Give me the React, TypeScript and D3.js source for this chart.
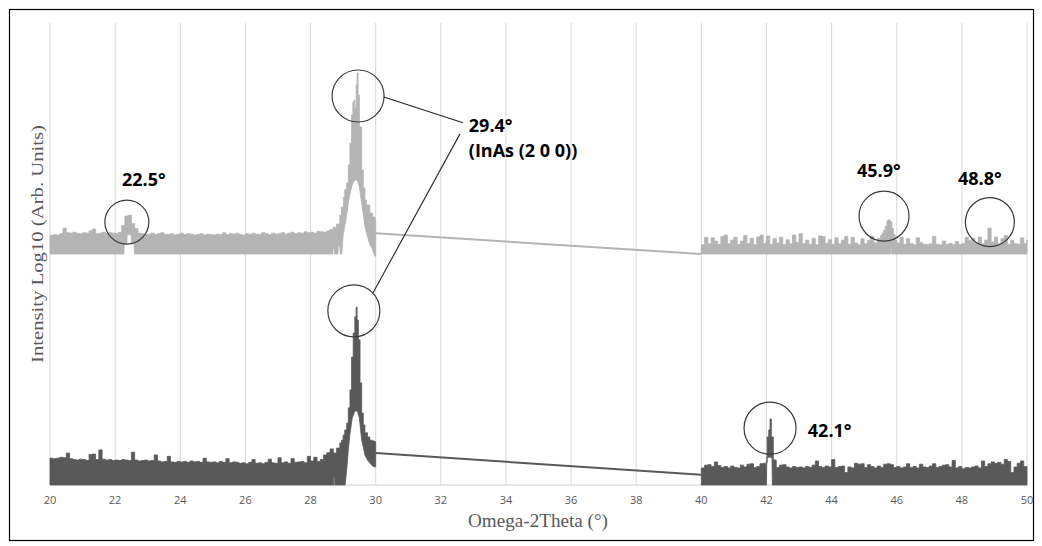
import React from "react";
import * as d3 from "d3";

// ---------- DATA (Omega-2Theta in degrees, intensity in arbitrary log units) ----------
const xTicks = [20, 22, 24, 26, 28, 30, 32, 34, 36, 38, 40, 42, 44, 46, 48, 50];
const xTitle = "Omega-2Theta (°)";
const yTitle = "Intensity Log10 (Arb. Units)";
const gridStep = 0.1;

// Upper sample (light gray, offset) 20.0 → 28.6 every 0.1°: upper edge of the noise band
const lightUpperA = [
  5.40, 5.42, 5.41, 5.44, 5.56, 5.46, 5.45, 5.47, 5.45, 5.44,
  5.46, 5.45, 5.50, 5.54, 5.44, 5.45, 5.47, 5.44, 5.46, 5.45,
  5.44, 5.47, 5.62, 5.82, 5.84, 5.66, 5.55, 5.45, 5.44, 5.42,
  5.43, 5.45, 5.42, 5.44, 5.46, 5.43, 5.42, 5.44, 5.41, 5.43,
  5.45, 5.42, 5.44, 5.43, 5.41, 5.42, 5.44, 5.41, 5.43, 5.42,
  5.41, 5.43, 5.42, 5.46, 5.42, 5.44, 5.43, 5.45, 5.42, 5.41,
  5.44, 5.42, 5.45, 5.43, 5.42, 5.46, 5.44, 5.42, 5.45, 5.43,
  5.44, 5.46, 5.43, 5.45, 5.47, 5.44, 5.46, 5.45, 5.48, 5.46,
  5.47, 5.45, 5.49, 5.48, 5.47, 5.50, 5.53,
];
const lightPeakA: [number, number][] = [
  [28.7, 5.58], [28.8, 5.65], [28.9, 5.84], [28.95, 6.02], [29.01, 6.23], [29.05, 6.39],
  [29.11, 6.54], [29.16, 6.93], [29.21, 7.4], [29.26, 8.01], [29.3, 8.29], [29.33, 8.33],
  [29.36, 8.16], [29.4, 8.66], [29.43, 8.92], [29.46, 8.44], [29.5, 7.75], [29.57, 6.82],
  [29.62, 6.43], [29.67, 6.17], [29.72, 6.06], [29.82, 5.89], [29.9, 5.8], [29.98, 5.74],
  [30.0, 5.45],
];
const lightLowerA: [number, number][] = [
  [20.0, 5.0], [22.27, 5.0], [22.28, 5.22], [22.36, 5.22], [22.37, 5.42], [22.49, 5.42],
  [22.5, 5.22], [22.58, 5.22], [22.59, 5.0], [28.68, 5.0], [28.69, 5.12], [28.72, 5.12],
  [28.73, 5.0], [28.84, 5.0], [28.85, 5.18], [28.9, 5.18], [28.91, 5.0], [28.96, 5.0],
  [29.0, 5.4], [29.05, 5.6], [29.11, 5.85], [29.16, 6.1], [29.21, 6.3], [29.28, 6.5],
  [29.36, 6.6], [29.44, 6.6], [29.5, 6.45], [29.57, 6.1], [29.62, 5.85], [29.67, 5.6],
  [29.72, 5.45], [29.82, 5.2], [29.9, 5.1], [29.98, 4.95], [30.0, 4.95],
];
// 40.0 → 45.4
const lightUpperB1 = [
  5.20, 5.36, 5.22, 5.35, 5.28, 5.21, 5.38, 5.41, 5.22, 5.30,
  5.36, 5.21, 5.28, 5.40, 5.22, 5.34, 5.20, 5.37, 5.41, 5.23,
  5.39, 5.21, 5.33, 5.24, 5.36, 5.20, 5.31, 5.22, 5.41, 5.25,
  5.44, 5.22, 5.30, 5.21, 5.34, 5.20, 5.39, 5.38, 5.23, 5.31,
  5.21, 5.35, 5.22, 5.30, 5.38, 5.21, 5.36, 5.24, 5.20, 5.33,
  5.22, 5.29, 5.38, 5.24, 5.34,
];
const lightPeakB: [number, number][] = [
  [45.5, 5.4], [45.55, 5.45], [45.6, 5.52], [45.65, 5.6], [45.7, 5.72], [45.75, 5.74],
  [45.8, 5.7], [45.85, 5.55], [45.9, 5.42], [45.95, 5.3],
];
// 46.0 → 50.0
const lightUpperB2 = [
  5.24, 5.36, 5.21, 5.33, 5.22, 5.20, 5.35, 5.25, 5.21, 5.20,
  5.22, 5.38, 5.21, 5.20, 5.28, 5.21, 5.23, 5.20, 5.27, 5.21,
  5.22, 5.36, 5.30, 5.34, 5.24, 5.37, 5.22, 5.30, 5.56, 5.26,
  5.37, 5.22, 5.33, 5.40, 5.21, 5.29, 5.22, 5.21, 5.35, 5.23,
  5.30,
];
const lightLowerB: [number, number][] = [
  [40.0, 5.0], [45.81, 5.0], [45.815, 5.18], [45.84, 5.18], [45.845, 5.0], [50.0, 5.0],
];
const lightGap: [number, number][] = [[30.0, 5.45], [40.0, 5.0]];

// Lower sample (dark gray) 20.0 → 28.6 every 0.1°
const darkUpperA = [
  0.58, 0.57, 0.58, 0.60, 0.59, 0.69, 0.57, 0.55, 0.54, 0.56,
  0.55, 0.53, 0.66, 0.67, 0.55, 0.76, 0.56, 0.54, 0.55, 0.53,
  0.54, 0.53, 0.55, 0.54, 0.53, 0.71, 0.54, 0.52, 0.53, 0.54,
  0.52, 0.53, 0.65, 0.52, 0.50, 0.51, 0.62, 0.50, 0.49, 0.51,
  0.50, 0.51, 0.49, 0.52, 0.50, 0.51, 0.49, 0.58, 0.50, 0.49,
  0.50, 0.48, 0.51, 0.49, 0.57, 0.48, 0.50, 0.49, 0.47, 0.48,
  0.46, 0.49, 0.55, 0.47, 0.48, 0.46, 0.49, 0.56, 0.48, 0.47,
  0.59, 0.48, 0.50, 0.47, 0.57, 0.49, 0.50, 0.51, 0.48, 0.62,
  0.52, 0.60, 0.51, 0.55, 0.65, 0.70, 0.78,
];
const darkPeakA: [number, number][] = [
  [28.7, 0.69], [28.8, 0.8], [28.9, 0.91], [28.95, 0.97], [29.0, 1.08], [29.05, 1.19],
  [29.11, 1.34], [29.16, 1.67], [29.21, 2.06], [29.26, 2.77], [29.31, 3.29], [29.36, 3.64],
  [29.4, 3.85], [29.43, 3.57], [29.47, 3.14], [29.52, 2.21], [29.57, 1.56], [29.62, 1.3],
  [29.67, 1.13], [29.75, 1.04], [29.82, 0.97], [29.9, 0.95], [29.98, 0.93], [30.0, 0.69],
];
const darkLowerA: [number, number][] = [
  [20.0, 0], [28.71, 0], [28.715, 0.17], [28.74, 0.17], [28.745, 0], [29.06, 0],
  [29.11, 0.32], [29.16, 0.76], [29.21, 1.1], [29.28, 1.45], [29.36, 1.6], [29.44, 1.6],
  [29.5, 1.45], [29.57, 0.97], [29.62, 0.82], [29.67, 0.65], [29.75, 0.54], [29.82, 0.48],
  [29.9, 0.41], [29.98, 0.39], [30.0, 0.39],
];
// 40.0 → 41.9
const darkUpperB1 = [
  0.37, 0.43, 0.44, 0.40, 0.50, 0.42, 0.38, 0.40, 0.37, 0.41,
  0.38, 0.37, 0.43, 0.39, 0.45, 0.46, 0.38, 0.40, 0.46, 0.47,
];
const darkPeakB: [number, number][] = [
  [41.95, 0.45], [41.98, 0.48], [42.02, 1.04], [42.07, 1.19], [42.11, 1.43], [42.15, 1.04],
  [42.21, 0.54],
];
// 42.3 → 50.0
const darkUpperB2 = [
  0.38, 0.43, 0.44, 0.39, 0.37, 0.40, 0.38,
  0.39, 0.37, 0.40, 0.38, 0.43, 0.52, 0.40, 0.38, 0.41, 0.39,
  0.55, 0.38, 0.40, 0.41, 0.27, 0.39, 0.37, 0.47, 0.45, 0.46,
  0.38, 0.44, 0.40, 0.37, 0.41, 0.38, 0.45, 0.46, 0.44, 0.38,
  0.40, 0.37, 0.39, 0.46, 0.38, 0.40, 0.37, 0.45, 0.39, 0.38,
  0.41, 0.46, 0.38, 0.40, 0.43, 0.44, 0.39, 0.53, 0.37, 0.40,
  0.35, 0.38, 0.37, 0.39, 0.41, 0.37, 0.52, 0.40, 0.46, 0.50,
  0.47, 0.49, 0.45, 0.55, 0.51, 0.27, 0.39, 0.47, 0.52, 0.40,
  0.38,
];
const darkLowerB: [number, number][] = [
  [40.0, 0], [42.0, 0], [42.01, 0.6], [42.17, 0.6], [42.18, 0], [50.0, 0],
];
const darkGap: [number, number][] = [[30.0, 0.69], [40.0, 0.22]];

// Annotations (data coordinates)
const circles = [
  { x: 22.36, y: 5.69, r: 22 },
  { x: 29.46, y: 8.42, r: 26 },
  { x: 29.33, y: 3.77, r: 26 },
  { x: 42.11, y: 1.23, r: 26 },
  { x: 45.61, y: 5.82, r: 25 },
  { x: 48.86, y: 5.69, r: 24.5 },
];
const labels = [
  { x: 22.21, y: 6.47, text: "22.5°" },
  { x: 32.86, y: 7.64, text: "29.4°" },
  { x: 32.86, y: 7.1, text: "(InAs (2 0 0))" },
  { x: 44.78, y: 6.67, text: "45.9°" },
  { x: 47.88, y: 6.49, text: "48.8°" },
  { x: 43.27, y: 1.04, text: "42.1°" },
];
const leaders: [number, number][][] = [
  [[30.25, 8.4], [32.68, 7.84]],
  [[32.59, 7.6], [29.92, 4.16]],
];

const LIGHT = "#b4b4b4";
const DARK = "#595959";

const grid = (start: number, vals: number[]): [number, number][] =>
  vals.map((v, i) => [+(start + i * gridStep).toFixed(3), v]);

export default function App() {
  const x = d3.scaleLinear().domain([20, 50]).range([50, 1027]);
  const y = d3.scaleLinear().domain([0, 10]).range([485, 23]);
  const line = d3.line();

  const bandPath = (upper: [number, number][], lower: [number, number][]) => {
    const pts: [number, number][] = [];
    upper.forEach((p, i) => {
      pts.push([x(p[0]), y(p[1])]);
      if (i < upper.length - 1) pts.push([x(upper[i + 1][0]), y(p[1])]);
    });
    lower
      .slice()
      .reverse()
      .forEach((p) => pts.push([x(p[0]), y(p[1])]));
    return line(pts) + "Z";
  };
  const toPx = (pts: [number, number][]) => line(pts.map((p) => [x(p[0]), y(p[1])] as [number, number]));

  const bands = [
    { d: bandPath([...grid(20, lightUpperA), ...lightPeakA], lightLowerA), c: LIGHT },
    { d: bandPath([...grid(40, lightUpperB1), ...lightPeakB, ...grid(46, lightUpperB2)], lightLowerB), c: LIGHT },
    { d: bandPath([...grid(20, darkUpperA), ...darkPeakA], darkLowerA), c: DARK },
    { d: bandPath([...grid(40, darkUpperB1), ...darkPeakB, ...grid(42.3, darkUpperB2)], darkLowerB), c: DARK },
  ];

  return (
    <svg
      width={1042}
      height={546}
      style={{ position: "absolute", left: 0, top: 0, display: "block", background: "#fff" }}
    >
      <rect x={0} y={0} width={1042} height={546} fill="#fff" />
      <rect x={9.5} y={9.5} width={1024} height={531} fill="none" stroke="#000" strokeWidth={1.2} />
      {/* gridlines */}
      {xTicks.map((t) => (
        <line key={t} x1={x(t)} x2={x(t)} y1={y(10)} y2={y(0)} stroke="#d9d9d9" strokeWidth={1} />
      ))}
      <line x1={x(20)} x2={x(50)} y1={y(0)} y2={y(0)} stroke="#d0d0d0" strokeWidth={1} />
      {xTicks.map((t) => (
        <text
          key={"l" + t}
          x={x(t)}
          y={504}
          textAnchor="middle"
          fontFamily="'Open Sans', sans-serif"
          fontSize={11}
          fill="#595959"
        >
          {t}
        </text>
      ))}
      {/* data */}
      <path d={toPx(lightGap) || ""} fill="none" stroke={LIGHT} strokeWidth={2} />
      <path d={toPx(darkGap) || ""} fill="none" stroke={DARK} strokeWidth={2} />
      {bands.map((b, i) => (
        <path key={i} d={b.d} fill={b.c} stroke={b.c} strokeWidth={0.8} strokeLinejoin="round" />
      ))}
      {/* annotations */}
      {circles.map((c, i) => (
        <circle key={i} cx={x(c.x)} cy={y(c.y)} r={c.r} fill="none" stroke="#3a3a3a" strokeWidth={1.2} />
      ))}
      {leaders.map((l, i) => (
        <path key={i} d={toPx(l) || ""} stroke="#262626" strokeWidth={1.1} fill="none" />
      ))}
      {labels.map((l, i) => (
        <text
          key={i}
          x={x(l.x)}
          y={y(l.y)}
          fontFamily="'Open Sans', sans-serif"
          fontWeight={700}
          fontSize={18}
          fill="#000"
        >
          {l.text}
        </text>
      ))}
      {/* axis titles */}
      <text
        x={538}
        y={527}
        textAnchor="middle"
        fontFamily="'Liberation Serif', 'Times New Roman', serif"
        fontSize={18}
        fill="#595959"
        textLength={140}
        lengthAdjust="spacingAndGlyphs"
      >
        {xTitle}
      </text>
      <text
        transform="translate(43,244) rotate(-90)"
        textAnchor="middle"
        fontFamily="'Liberation Serif', 'Times New Roman', serif"
        fontSize={17}
        fill="#595959"
        textLength={238}
        lengthAdjust="spacingAndGlyphs"
      >
        {yTitle}
      </text>
    </svg>
  );
}
